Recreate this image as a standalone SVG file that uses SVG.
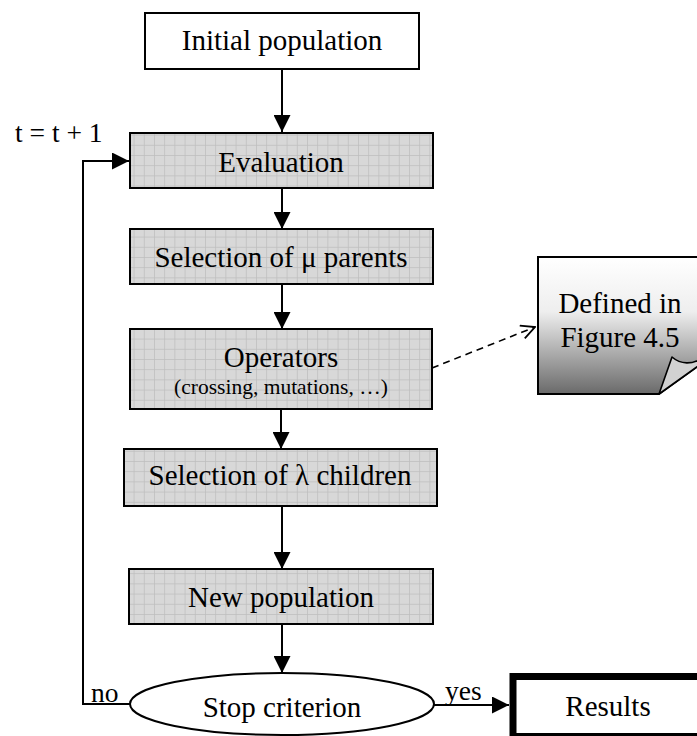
<svg xmlns="http://www.w3.org/2000/svg" width="697" height="736" viewBox="0 0 697 736">
<style>
text{font-family:"Liberation Serif","Times New Roman",serif;fill:#000}
.t{font-size:29px;text-anchor:middle}
.s{font-size:21.5px;text-anchor:middle}
.l{font-size:27.5px}
.box{stroke:#000;stroke-width:2}
.grid{fill:url(#grid)}
.con{fill:none;stroke:#000;stroke-width:2}
</style>
<defs>
<pattern id="grid" patternUnits="userSpaceOnUse" width="10.2" height="10.2" x="1" y="2">
<rect width="10.2" height="10.2" fill="#d8d8d8"/>
<path d="M0,0.4H10.2M0.4,0V10.2" stroke="#bdbdbd" stroke-width="0.8"/>
</pattern>
<linearGradient id="noteg" x1="0" y1="0" x2="0" y2="1">
<stop offset="0" stop-color="#ffffff"/>
<stop offset="0.4" stop-color="#eeeeee"/>
<stop offset="1" stop-color="#6a6a6a"/>
</linearGradient>
<marker id="ah" markerUnits="userSpaceOnUse" markerWidth="17" markerHeight="17" viewBox="0 0 15 15" refX="15" refY="7.5" orient="auto">
<path d="M0,0L15,7.5L0,15Z" fill="#000"/>
</marker>
<marker id="oa" markerUnits="userSpaceOnUse" markerWidth="16" markerHeight="16" viewBox="0 0 14 14" refX="13" refY="7" orient="auto">
<path d="M1,1L13,7L1,13" fill="none" stroke="#000" stroke-width="1.6"/>
</marker>
</defs>

<g id="connectors">
<line class="con" x1="282" y1="70" x2="282" y2="132" marker-end="url(#ah)"/>
<line class="con" x1="282" y1="188" x2="282" y2="229" marker-end="url(#ah)"/>
<line class="con" x1="282" y1="284" x2="282" y2="329" marker-end="url(#ah)"/>
<line class="con" x1="281" y1="409" x2="281" y2="449" marker-end="url(#ah)"/>
<line class="con" x1="282" y1="506" x2="282" y2="569" marker-end="url(#ah)"/>
<line class="con" x1="282" y1="624" x2="282" y2="673" marker-end="url(#ah)"/>
<polyline class="con" points="130,704 83,704 83,161 129,161" marker-end="url(#ah)"/>
<line class="con" x1="434" y1="705" x2="509" y2="705" marker-end="url(#ah)"/>
<line class="con" x1="432" y1="368" x2="535" y2="327" stroke-dasharray="7,5" style="stroke-width:1.6" marker-end="url(#oa)"/>
<text class="l" x="15" y="142">t = t + 1</text>
<text class="l" x="91" y="702">no</text>
<text class="l" x="445" y="700">yes</text>
</g>

<g id="initial">
<rect class="box" x="145" y="13" width="274" height="56" fill="#fff"/>
<text class="t" x="282" y="50">Initial population</text>
</g>

<g id="evaluation">
<rect class="box grid" x="130" y="133" width="303" height="55"/>
<text class="t" x="281" y="172">Evaluation</text>
</g>

<g id="selection-parents">
<rect class="box grid" x="130" y="229" width="303" height="55"/>
<text class="t" x="281" y="267">Selection of μ parents</text>
</g>

<g id="operators">
<rect class="box grid" x="130" y="329" width="302" height="80"/>
<text class="t" x="281" y="367">Operators</text>
<text class="s" x="281" y="394">(crossing, mutations, …)</text>
</g>

<g id="selection-children">
<rect class="box grid" x="124" y="449" width="313" height="57"/>
<text class="t" x="280" y="485">Selection of λ children</text>
</g>

<g id="new-population">
<rect class="box grid" x="129" y="569" width="304" height="55"/>
<text class="t" x="281" y="607">New population</text>
</g>

<g id="stop">
<ellipse cx="282" cy="704" rx="152" ry="31" fill="#fff" stroke="#000" stroke-width="2"/>
<text class="t" x="282" y="717">Stop criterion</text>
</g>

<g id="results">
<rect x="513" y="676.5" width="200" height="60" fill="#fff" stroke="#000" stroke-width="7"/>
<text class="t" x="608" y="716">Results</text>
</g>

<g id="note">
<path d="M538,257H705V361L659,394H538Z" fill="url(#noteg)" stroke="#000" stroke-width="2"/>
<path d="M659,394L672,357C680,364 692,366 705,356L705,361Z" fill="#d2d2d2" stroke="#000" stroke-width="1.6" stroke-linejoin="round"/>
<text class="t" x="620" y="313">Defined in</text>
<text class="t" x="620" y="347">Figure 4.5</text>
</g>
</svg>
